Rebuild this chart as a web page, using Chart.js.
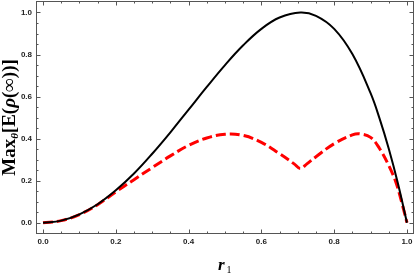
<!DOCTYPE html>
<html>
<head>
<meta charset="utf-8">
<script src="https://cdn.jsdelivr.net/npm/chart.js@4.4.0/dist/chart.umd.min.js"></script>
<style>
html,body{margin:0;padding:0;background:#fff;}
#box{width:415px;height:273px;}
</style>
</head>
<body>
<div id="box"><canvas id="myChart" width="415" height="273"></canvas></div>
<script>
// values
var rBlack   = [0, 0.05, 0.1, 0.15, 0.2, 0.25, 0.3, 0.35, 0.4, 0.45, 0.5, 0.55, 0.6, 0.65, 0.707, 0.75, 0.8, 0.85, 0.9, 0.925, 0.95, 0.975, 1.0];
var maxBlack = [0, 0.010, 0.040, 0.088, 0.154, 0.234, 0.328, 0.430, 0.538, 0.646, 0.750, 0.844, 0.922, 0.976, 1.000, 0.984, 0.922, 0.802, 0.616, 0.494, 0.352, 0.188, 0];

var rRed   = [0, 0.05, 0.1, 0.15, 0.2, 0.25, 0.3, 0.35, 0.4, 0.45, 0.5, 0.55, 0.6, 0.65, 0.69, 0.707, 0.725, 0.75, 0.8, 0.85, 0.87, 0.9, 0.925, 0.95, 0.97, 0.985, 1.0];
var maxRed = [0, 0.010, 0.039, 0.086, 0.147, 0.205, 0.262, 0.318, 0.368, 0.403, 0.421, 0.415, 0.382, 0.328, 0.280, 0.258, 0.280, 0.314, 0.376, 0.418, 0.423, 0.406, 0.352, 0.272, 0.190, 0.100, 0];

var xTickLabels = [0, 0.2, 0.4, 0.6, 0.8, 1.0];
var yTickLabels = [0, 0.2, 0.4, 0.6, 0.8, 1.0];

function toPoints(xs, ys){
	var pts = [];
	for(let i=0; i<xs.length; i++){
		pts.push({x:xs[i], y:ys[i]});
	}
	return pts;
}

// frame with inward ticks on all four sides, plus axis titles
var framePlugin = {
	id:'frame',
	afterDraw:function(chart){
		var ctx = chart.ctx, a = chart.chartArea;
		var xs = chart.scales.x, ys = chart.scales.y;
		ctx.save();
		ctx.setLineDash([]);
		ctx.strokeStyle = '#555';
		ctx.lineWidth = 1;
		ctx.strokeRect(a.left+0.5, a.top+0.5, a.right-a.left-1, a.bottom-a.top-1);
		ctx.beginPath();
		for(let i=0; i<=20; i++){
			var v = i/20;
			var len = (i%4==0) ? 4.5 : 2.5;
			var px = Math.round(xs.getPixelForValue(v))+0.5;
			ctx.moveTo(px, a.bottom); ctx.lineTo(px, a.bottom-len);
			ctx.moveTo(px, a.top); ctx.lineTo(px, a.top+len);
			var py = Math.round(ys.getPixelForValue(v))+0.5;
			ctx.moveTo(a.left, py); ctx.lineTo(a.left+len, py);
			ctx.moveTo(a.right, py); ctx.lineTo(a.right-len, py);
		}
		ctx.stroke();

		// y title, rotated, with subscript theta
		ctx.fillStyle = '#000';
		ctx.textBaseline = 'alphabetic';
		ctx.textAlign = 'left';
		var parts = [
			{t:'Max', f:'bold 19px "Liberation Serif"', dy:0},
			{t:'θ', f:'italic bold 11px "Liberation Serif"', dy:3},
			{t:'[E(', f:'bold 19px "Liberation Serif"', dy:0},
			{t:'ρ', f:'italic bold 19px "Liberation Serif"', dy:0},
			{t:'(∞))]', f:'bold 19px "Liberation Serif"', dy:0}
		];
		var total = 0;
		parts.forEach(function(p){ ctx.font = p.f; p.w = ctx.measureText(p.t).width; total += p.w; });
		ctx.save();
		ctx.translate(15, 117.5);
		ctx.rotate(-Math.PI/2);
		var cx = -total/2;
		parts.forEach(function(p){ ctx.font = p.f; ctx.fillText(p.t, cx, p.dy); cx += p.w; });
		ctx.restore();

		// x title r1
		ctx.font = 'italic bold 17px "Liberation Serif"';
		var wr = ctx.measureText('r').width;
		ctx.fillText('r', 218, 270);
		ctx.font = '10px "Liberation Serif"';
		ctx.fillText('1', 218+wr+2, 272.5);
		ctx.restore();
	}
};

Chart.defaults.font.family = "'Liberation Sans', Arial, sans-serif";

new Chart(document.getElementById("myChart"),{
	type:"line",
	data:{
		datasets:[{
			data:toPoints(rBlack, maxBlack),
			borderColor:"#000",
			borderWidth:2,
			tension:0.4,
			pointRadius:0,
			fill:false
		},{
			data:toPoints(rRed, maxRed),
			borderColor:"#ff0000",
			borderWidth:3,
			borderDash:[10,4],
			tension:0.4,
			pointRadius:0,
			fill:false
		}]
	},
	options:{
		responsive:false,
		animation:false,
		devicePixelRatio:1,
		layout:{padding:{top:1, right:1, left:0, bottom:0}},
		plugins:{legend:{display:false}, tooltip:{enabled:false}},
		scales:{
			x:{
				type:'linear', min:-0.0193, max:1.0193,
				grid:{display:false, drawTicks:false}, border:{display:false},
				afterBuildTicks:function(s){ s.ticks = xTickLabels.map(function(v){ return {value:v}; }); },
				afterFit:function(s){ s.height = 39; s.paddingLeft = 0; s.paddingRight = 0; },
				ticks:{padding:3, color:'#222', autoSkip:false, maxRotation:0,
					font:{size:8, weight:'bold'},
					callback:function(v){ return v.toFixed(1); }}
			},
			y:{
				type:'linear', min:-0.0536, max:1.0546,
				grid:{display:false, drawTicks:false}, border:{display:false},
				afterBuildTicks:function(s){ s.ticks = yTickLabels.map(function(v){ return {value:v}; }); },
				afterFit:function(s){ s.width = 36; s.paddingTop = 0; s.paddingBottom = 0; },
				ticks:{padding:4, color:'#222', autoSkip:false,
					font:{size:8, weight:'bold'},
					callback:function(v){ return v.toFixed(1); }}
			}
		}
	},
	plugins:[framePlugin]
});
</script>
</body>
</html>
